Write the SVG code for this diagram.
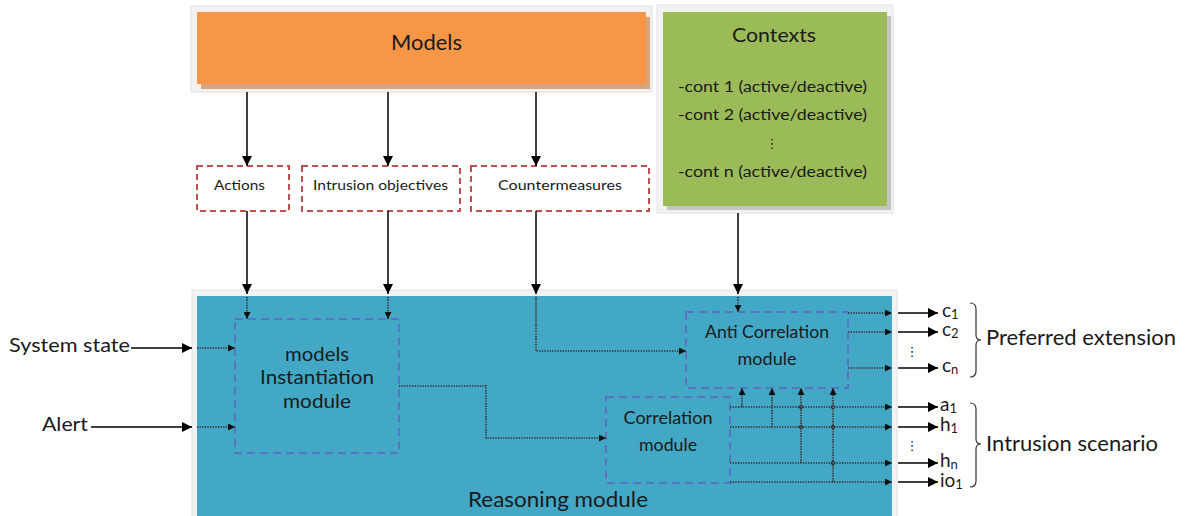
<svg xmlns="http://www.w3.org/2000/svg" width="1187" height="516" viewBox="0 0 1187 516">
<style>
text{font-family:Lato,"Liberation Sans",sans-serif;fill:#1a1a1a}
.frame{fill:#f2f2f2;stroke:#e2e2e2;stroke-width:1}
.red{fill:#fff;stroke:#c0504d;stroke-width:2;stroke-dasharray:6 4}
.blu{fill:none;stroke:#5a74c4;stroke-width:2;stroke-dasharray:8 5}
.sol{fill:none;stroke:#000;stroke-width:1.5}
.dot{fill:none;stroke:#3a2f2f;stroke-width:1.6;stroke-dasharray:1.4 1.2}
.brace{fill:none;stroke:#333;stroke-width:1.2}
.jn{fill:none;stroke:#3a2f2f;stroke-width:1}
.o{font-size:19px}
.s{font-size:13px}
</style>
<defs>
<marker id="ah" viewBox="0 0 10 10" refX="10" refY="5" markerWidth="11" markerHeight="10" markerUnits="userSpaceOnUse" orient="auto"><path d="M0,0 L10,5 L0,10 z" fill="#000"/></marker>
<marker id="ad" viewBox="0 0 10 10" refX="10" refY="5" markerWidth="8" markerHeight="7" markerUnits="userSpaceOnUse" orient="auto"><path d="M0,0 L10,5 L0,10 z" fill="#111"/></marker>
</defs>
<rect width="1187" height="516" fill="#fff"/>

<g id="models">
<rect class="frame" x="191" y="6" width="461" height="86"/>
<rect x="201" y="17" width="449" height="72" fill="#d7a47f"/>
<rect x="197" y="12" width="449" height="72" fill="#f79646"/>
<text x="426.5" y="50" font-size="21" text-anchor="middle" textLength="71" lengthAdjust="spacingAndGlyphs">Models</text>
</g>

<g id="contexts">
<rect class="frame" x="657" y="5" width="236" height="208"/>
<rect x="667" y="16" width="224" height="194" fill="#c4c4c4"/>
<rect x="663" y="12" width="224" height="194" fill="#9bbb59"/>
<text x="774" y="42" font-size="20" text-anchor="middle" textLength="84" lengthAdjust="spacingAndGlyphs">Contexts</text>
<text x="772.5" y="92" font-size="15.5" text-anchor="middle" textLength="189" lengthAdjust="spacingAndGlyphs">-cont 1 (active/deactive)</text>
<text x="772.5" y="120" font-size="15.5" text-anchor="middle" textLength="189" lengthAdjust="spacingAndGlyphs">-cont 2 (active/deactive)</text>
<text x="772" y="148" font-size="13" text-anchor="middle" style="font-family:'DejaVu Sans',sans-serif">⋮</text>
<text x="772.5" y="177" font-size="15.5" text-anchor="middle" textLength="189" lengthAdjust="spacingAndGlyphs">-cont n (active/deactive)</text>
</g>

<g id="actions">
<rect class="red" x="197" y="166" width="92" height="45"/>
<text x="214" y="190" font-size="14" textLength="51" lengthAdjust="spacingAndGlyphs">Actions</text>
</g>
<g id="intrusion-objectives">
<rect class="red" x="302" y="166" width="158" height="45"/>
<text x="313" y="190" font-size="14" textLength="135" lengthAdjust="spacingAndGlyphs">Intrusion objectives</text>
</g>
<g id="countermeasures">
<rect class="red" x="471" y="166" width="178" height="45"/>
<text x="498" y="190" font-size="14" textLength="124" lengthAdjust="spacingAndGlyphs">Countermeasures</text>
</g>

<g id="reasoning">
<rect class="frame" x="192" y="290" width="705" height="230"/>
<rect x="197" y="296" width="695" height="222" fill="#42a8c5"/>
<text x="468" y="507" font-size="21" textLength="180" lengthAdjust="spacingAndGlyphs">Reasoning module</text>
</g>

<g id="instantiation">
<rect class="blu" x="235" y="319" width="164" height="134"/>
<text x="317" y="361" font-size="19" text-anchor="middle" textLength="64" lengthAdjust="spacingAndGlyphs">models</text>
<text x="317" y="384" font-size="19" text-anchor="middle" textLength="114" lengthAdjust="spacingAndGlyphs">Instantiation</text>
<text x="317" y="408" font-size="19" text-anchor="middle" textLength="68" lengthAdjust="spacingAndGlyphs">module</text>
</g>

<g id="anti-correlation">
<rect class="blu" x="686" y="312" width="162" height="76"/>
<text x="767" y="338" font-size="17" text-anchor="middle" textLength="124" lengthAdjust="spacingAndGlyphs">Anti Correlation</text>
<text x="767" y="365" font-size="17" text-anchor="middle" textLength="59" lengthAdjust="spacingAndGlyphs">module</text>
</g>

<g id="correlation">
<rect class="blu" x="606" y="397" width="124" height="86"/>
<text x="668" y="424" font-size="17" text-anchor="middle" textLength="89" lengthAdjust="spacingAndGlyphs">Correlation</text>
<text x="668" y="451" font-size="17" text-anchor="middle" textLength="58" lengthAdjust="spacingAndGlyphs">module</text>
</g>

<g id="inputs">
<text x="9" y="352" font-size="20" textLength="121" lengthAdjust="spacingAndGlyphs">System state</text>
<text x="42" y="431" font-size="20" textLength="46" lengthAdjust="spacingAndGlyphs">Alert</text>
</g>

<g id="outputs">
<text class="o" x="942" y="317">c<tspan class="s" dy="2">1</tspan></text>
<text class="o" x="942" y="336">c<tspan class="s" dy="2">2</tspan></text>
<text x="912" y="356" font-size="13" text-anchor="middle" style="font-family:'DejaVu Sans',sans-serif">⋮</text>
<text class="o" x="942" y="372">c<tspan class="s" dy="2">n</tspan></text>
<text class="o" x="940" y="411">a<tspan class="s" dy="2">1</tspan></text>
<text class="o" x="940" y="431">h<tspan class="s" dy="2">1</tspan></text>
<text x="912" y="450" font-size="13" text-anchor="middle" style="font-family:'DejaVu Sans',sans-serif">⋮</text>
<text class="o" x="940" y="467">h<tspan class="s" dy="2">n</tspan></text>
<text class="o" x="940" y="487">io<tspan class="s" dy="2">1</tspan></text>
<path class="brace" d="M970,303 Q976,303 976,309 L976,335 Q976,340 981,340 Q976,340 976,345 L976,371 Q976,377 970,377"/>
<text x="986" y="345" font-size="21" textLength="190" lengthAdjust="spacingAndGlyphs">Preferred extension</text>
<path class="brace" d="M970,403 Q976,403 976,409 L976,439 Q976,444 981,444 Q976,444 976,449 L976,481 Q976,487 970,487"/>
<text x="986" y="451" font-size="21" textLength="172" lengthAdjust="spacingAndGlyphs">Intrusion scenario</text>
</g>

<g id="connectors">
<g class="sol" marker-end="url(#ah)">
<path d="M247,92 V166"/><path d="M388,92 V166"/><path d="M536,92 V166"/>
<path d="M247,211 V294"/><path d="M388,211 V294"/><path d="M536,211 V294"/>
<path d="M738,213 V294"/>
<path d="M131,348 H192"/><path d="M91,427 H192"/>
<path d="M898,313 H938"/><path d="M898,332 H938"/><path d="M898,368 H938"/>
<path d="M898,407 H938"/><path d="M898,427 H938"/><path d="M898,463 H938"/><path d="M898,482 H938"/>
</g>
<g class="dot" marker-end="url(#ad)">
<path d="M247,297 V319"/><path d="M388,297 V319"/><path d="M738,297 V312"/>
<path d="M197,348 H235"/><path d="M197,427 H235"/>
<path d="M399,386 H486 V438 H606"/>
<path d="M536,297 V351 H686"/>
<path d="M848,313 H892"/><path d="M848,332 H892"/><path d="M848,368 H892"/>
<path d="M730,407 H892"/><path d="M730,427 H892"/><path d="M730,463 H892"/><path d="M730,482 H892"/>
<path d="M742,407 V388"/><path d="M772,427 V388"/><path d="M801,463 V388"/><path d="M833,482 V388"/>
</g>
<g class="jn">
<circle cx="801" cy="407" r="1.8"/><circle cx="833" cy="407" r="1.8"/><circle cx="801" cy="427" r="1.8"/><circle cx="833" cy="427" r="1.8"/><circle cx="833" cy="463" r="1.8"/>
</g>
</g>
</svg>
